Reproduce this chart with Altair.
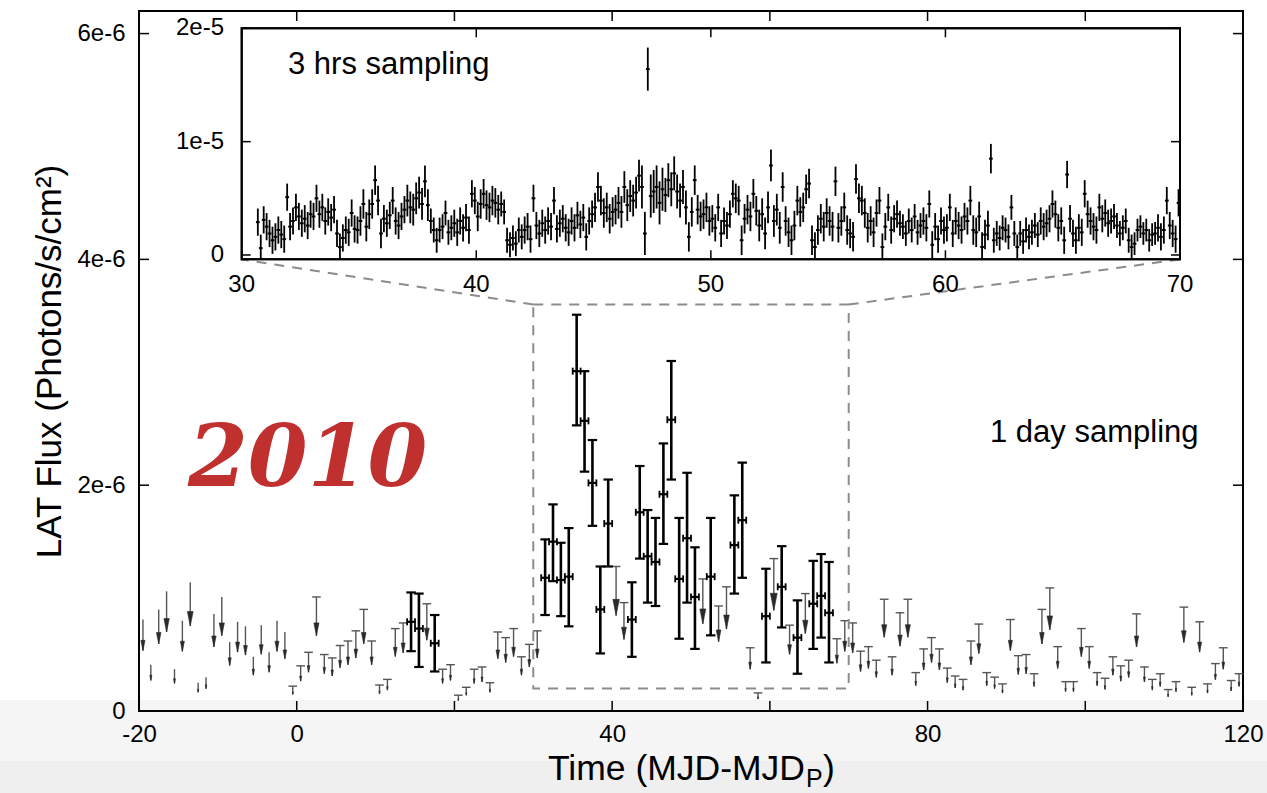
import altair as alt
import pandas as pd

# ---------------- 1-day light curve (flux in units of 1e-6 ph/s/cm^2) ----------------
ul_t = [-19.5, -18.5, -17.5, -16.5, -15.5, -14.5, -13.5, -12.5, -11.5, -10.5,
        -9.5, -8.5, -7.5, -6.5, -5.5, -4.5, -3.5, -2.5, -1.5, -0.5,
        0.5, 1.5, 2.5, 3.5, 4.5, 5.5, 6.5, 7.5, 8.5, 9.5,
        10.5, 11.5, 12.5, 13.5, 16.5, 18.5, 19.5, 20.5, 21.5, 22.5,
        23.5, 24.5, 25.5, 26.5, 27.5, 28.5, 29.5, 30.5, 40.5, 41.5,
        51.5, 53.5, 54.5, 57.5, 58.5, 60.5, 62.5, 64.5, 68.5, 69.5,
        70.5, 71.5, 72.5, 73.5, 74.5, 75.5, 76.5, 77.5, 78.5, 79.5,
        80.5, 81.5, 82.5, 83.5, 84.5, 85.5, 86.5, 87.5, 88.5, 89.5,
        90.5, 91.5, 92.5, 93.5, 94.5, 95.5, 96.5, 97.5, 98.5, 99.5,
        100.5, 101.5, 102.5, 103.5, 104.5, 105.5, 106.5, 107.5, 108.5, 109.5,
        110.5, 111.5, 112.5, 113.5, 114.5, 115.5, 116.5, 117.5, 118.5, 119.5]
ul_f = [0.81, 0.41, 0.90, 1.06, 0.37, 0.80, 1.14, 0.25, 0.30, 0.86,
        1.01, 0.61, 0.79, 0.75, 0.48, 0.76, 0.52, 0.80, 0.70, 0.22,
        0.40, 0.52, 1.01, 0.50, 0.47, 0.58, 0.62, 0.71, 0.90, 0.62,
        0.23, 0.28, 0.73, 0.78, 0.95, 0.37, 0.41, 0.14, 0.21, 0.37,
        0.39, 0.25, 0.70, 0.65, 0.73, 0.48, 0.59, 0.71, 1.28, 0.96,
        1.17, 0.93, 1.10, 0.56, 0.16, 1.35, 0.76, 1.04, 0.64, 0.80,
        0.78, 0.53, 0.57, 0.45, 0.99, 0.48, 0.87, 0.99, 0.34, 0.55,
        0.65, 0.55, 0.38, 0.31, 0.28, 0.62, 0.77, 0.34, 0.30, 0.24,
        0.81, 0.49, 0.50, 0.33, 0.90, 1.09, 0.57, 0.26, 0.26, 0.73,
        0.57, 0.34, 0.29, 0.48, 0.40, 0.45, 0.86, 0.39, 0.28, 0.33,
        0.19, 0.26, 0.92, 0.21, 0.79, 0.24, 0.42, 0.56, 0.27, 0.33]

det_t = [14.5, 15.5, 17.5, 31.5, 32.5, 33.5, 34.5, 35.5, 36.5, 37.5,
         38.5, 39.5, 42.5, 43.5, 44.5, 45.5, 46.5, 47.5, 48.5, 49.5,
         50.5, 52.5, 55.5, 56.5, 59.5, 61.5, 63.5, 65.5, 66.5, 67.5]
det_f = [0.79, 0.73, 0.60, 1.18, 1.50, 1.16, 1.19, 3.01, 2.57, 2.02,
         0.90, 1.66, 0.81, 1.76, 1.37, 1.32, 1.92, 2.58, 1.17, 1.53,
         1.01, 1.19, 1.47, 1.69, 0.84, 1.10, 0.65, 0.95, 1.02, 0.87]
det_lo = [0.53, 0.39, 0.35, 0.85, 1.15, 0.84, 0.75, 2.53, 2.12, 1.64,
          0.51, 1.28, 0.48, 1.35, 0.96, 0.93, 1.48, 2.05, 0.64, 0.96,
          0.55, 0.67, 1.04, 1.18, 0.43, 0.74, 0.33, 0.55, 0.65, 0.43]
det_hi = [1.05, 1.04, 0.85, 1.52, 1.83, 1.49, 1.62, 3.51, 3.01, 2.40,
          1.28, 2.05, 1.14, 2.17, 1.78, 1.71, 2.37, 3.10, 1.71, 2.11,
          1.45, 1.71, 1.91, 2.20, 1.26, 1.46, 0.98, 1.33, 1.39, 1.32]

# ---------------- 3-hour light curve (inset), 1e-6 units, one row per day ----------------
inset_day = [30, 31, 32, 33, 34, 35, 36, 37, 38, 39, 40, 41, 42, 43, 44, 45, 46, 47, 48, 49,
             50, 51, 52, 53, 54, 55, 56, 57, 58, 59, 60, 61, 62, 63, 64, 65, 66, 67, 68, 69]
inset_flux = [
    [None, None, None, None, None, 2.9, 0.6, 3.1],
    [2.5, 1.9, 1.3, 1.6, 2.2, 1.8, 1.4, 5.1],
    [2.5, 3.0, 4.2, 3.4, 2.8, 3.2, 2.6, 3.6],
    [3.4, 5.0, 3.6, 4.2, 3.0, 3.8, 3.3, 4.0],
    [1.9, 0.7, 1.5, 2.2, 2.0, 3.7, 2.3, 2.2],
    [3.0, 4.5, 2.5, 3.6, 4.5, 6.6, 4.8, 1.9],
    [3.2, 2.8, 3.5, 4.8, 3.0, 2.6, 3.4, 4.0],
    [4.8, 4.2, 4.0, 5.0, 5.5, 4.5, 6.5, 4.4],
    [3.0, 2.2, 1.3, 2.2, 2.5, 3.7, 2.0, 2.4],
    [2.8, 2.0, 3.0, 2.4, 3.3, 2.2, 5.4, 4.8],
    [3.4, 4.5, 5.4, 4.4, 4.2, 4.8, 4.6, 4.0],
    [4.5, 3.8, 1.3, 0.9, 1.5, 1.0, 2.2, 1.6],
    [2.2, 2.5, 1.4, 5.0, 2.6, 1.9, 2.8, 2.2],
    [3.0, 2.5, 4.8, 2.3, 2.8, 3.2, 2.4, 2.0],
    [3.0, 2.4, 3.5, 2.7, 3.3, 1.6, 3.0, 3.6],
    [4.2, 6.0, 4.8, 3.7, 4.2, 3.2, 3.8, 4.0],
    [4.6, 3.8, 6.0, 4.4, 5.2, 4.8, 5.5, 7.0],
    [6.0, 1.9, 16.4, 5.2, 5.6, 6.0, 4.6, 5.8],
    [5.3, 6.6, 5.8, 7.2, 5.6, 4.8, 6.0, 4.2],
    [1.6, 3.8, 6.6, 4.0, 3.4, 3.6, 4.2, 3.0],
    [3.2, 2.4, 4.2, 1.9, 3.0, 2.6, 3.6, 5.4],
    [5.0, 4.8, 1.3, 3.2, 4.0, 3.4, 5.4, 3.9],
    [2.6, 3.6, 1.9, 4.2, 7.9, 3.0, 4.0, 2.4],
    [6.0, 3.0, 2.0, 1.3, 2.6, 4.8, 3.8, 4.2],
    [5.8, 6.3, 1.3, 0.7, 2.2, 3.2, 2.5, 3.7],
    [3.0, 2.5, 6.5, 2.4, 3.0, 4.2, 2.2, 1.9],
    [1.6, 6.7, 5.0, 4.8, 3.7, 2.4, 3.0, 2.0],
    [3.7, 4.8, 0.7, 2.5, 4.2, 2.2, 3.2, 3.6],
    [2.8, 2.5, 1.9, 3.0, 2.2, 3.4, 2.0, 2.6],
    [3.0, 2.4, 4.5, 0.9, 2.5, 1.4, 3.0, 2.2],
    [2.4, 4.2, 1.9, 3.0, 2.6, 2.2, 3.4, 3.0],
    [4.8, 2.2, 2.0, 3.4, 0.7, 1.8, 2.6, 8.5],
    [1.3, 1.9, 1.5, 2.4, 2.2, 1.6, 4.2, 1.9],
    [0.7, 1.9, 1.2, 2.2, 1.6, 2.0, 2.6, 1.8],
    [3.0, 2.5, 2.8, 3.2, 4.5, 3.6, 2.4, 3.0],
    [1.3, 7.1, 3.2, 1.9, 1.3, 2.4, 2.0, 5.4],
    [3.6, 3.0, 2.5, 2.2, 4.2, 3.2, 3.7, 2.8],
    [3.0, 3.4, 2.6, 1.9, 2.4, 3.0, 1.3, 0.7],
    [1.0, 2.2, 2.5, 1.9, 2.2, 1.3, 1.8, 1.9],
    [2.4, 1.6, 2.2, 4.8, 2.6, 1.9, 1.4, 4.6],
]
inset_err = [1.2, 1.2, 1.2, 1.2, 1.2, 1.3, 1.2, 1.4, 1.1, 1.2,
             1.3, 1.1, 1.2, 1.2, 1.2, 1.3, 1.4, 1.9, 1.5, 1.3,
             1.2, 1.3, 1.4, 1.3, 1.3, 1.3, 1.3, 1.2, 1.1, 1.2,
             1.2, 1.3, 1.1, 1.1, 1.2, 1.2, 1.2, 1.1, 1.0, 1.2]

x_ticks = [-20, 0, 20, 40, 60, 80, 100, 120]
y_ticks = [0, 2, 4, 6]
inset_x_ticks = [30, 40, 50, 60, 70]
inset_y_ticks = [0, 10, 20]
inset_y_labels = ["0", "1e-5", "2e-5"]

# ---------------- layout ----------------
W, H = 1104, 700
FONT = "Liberation Sans"
GRAY = "#8c8c8c"

xs = alt.Scale(domain=[-20, 120], nice=False, zero=False)
ys = alt.Scale(domain=[0, 6.2], nice=False, zero=False)
ixs = alt.Scale(domain=[30, 70], range=[102.7, 1041.0], nice=False, zero=False)
iys = alt.Scale(domain=[-0.38, 20], range=[248.3, 17.3], nice=False, zero=False)

XA = alt.Axis(values=x_ticks, ticks=False, tickSize=0, domain=False, grid=False,
              labelExpr="(datum.value == 20 || datum.value == 60 || datum.value == 100) ? '' : '' + datum.value",
              labelFontSize=24, labelFont=FONT, labelColor="black", labelPadding=11,
              labelFlush=False, labelOverlap=False, title="", zindex=2)
YA = alt.Axis(values=y_ticks, ticks=False, tickSize=0, domain=False, grid=False,
              labelExpr="datum.value == 0 ? '0' : datum.value + 'e-6'",
              labelFontSize=24, labelFont=FONT, labelColor="black", labelPadding=14,
              labelFlush=False, labelOverlap=False, zindex=2,
              title="LAT Flux (Photons/s/cm²)", titleFontSize=35, titleFont=FONT,
              titleFontWeight="normal", titleColor="black", titlePadding=9)


def X(f):
    return alt.X(f, type="quantitative", scale=xs, axis=XA)


def Y(f):
    return alt.Y(f, type="quantitative", scale=ys, axis=YA)


def IX(f):
    return alt.X(f, type="quantitative", scale=ixs, axis=None)


def IY(f):
    return alt.Y(f, type="quantitative", scale=iys, axis=None)


# ---------------- tables ----------------
one = pd.DataFrame({"k": [0]})
ul = pd.DataFrame({"t": ul_t, "f": ul_f})
ul["tip"] = ul["f"] * 0.66
ul["hs"] = (ul["f"] * 12.7) ** 2
ul["a"] = ul["t"] - 0.55
ul["b"] = ul["t"] + 0.55
ul_cap = ul[ul["t"] > -1]

det = pd.DataFrame({"t": det_t, "f": det_f, "lo": det_lo, "hi": det_hi})
det["a"] = det["t"] - 0.6
det["b"] = det["t"] + 0.6
det["l"] = det["t"] - 0.5
det["r"] = det["t"] + 0.5
det_caps = pd.concat([pd.DataFrame({"a": det["a"], "b": det["b"], "y": det["lo"]}),
                      pd.DataFrame({"a": det["a"], "b": det["b"], "y": det["hi"]})])
det_ends = pd.concat([pd.DataFrame({"x": det["l"], "y": det["f"]}),
                      pd.DataFrame({"x": det["r"], "y": det["f"]})])

rows = []
for d, vals, e in zip(inset_day, inset_flux, inset_err):
    for k, v in enumerate(vals):
        if v is None:
            continue
        t = d + (k + 0.5) / 8.0
        rows.append({"t": t, "f": v, "lo": max(v - e, -0.38), "hi": min(v + e, 20.0),
                     "a": t - 0.08, "b": t + 0.08})
ins = pd.DataFrame(rows)

frame_df = pd.DataFrame({"x0": [-20], "x1": [120], "y0": [0.0], "y1": [6.2]})
box_df = pd.DataFrame({"x0": [30], "x1": [70], "y0": [0.2], "y1": [3.6]})
conn_df = pd.DataFrame({"x0": [30, 70], "y0": [3.6, 3.6], "x1": [-7, 112], "y1": [4.0, 4.0]})
xt_df = pd.DataFrame({"v": x_ticks})
yt_df = pd.DataFrame({"v": y_ticks})
inset_frame_df = pd.DataFrame({"x0": [30], "x1": [70], "y0": [-0.38], "y1": [20.0]})
ixt_df = pd.DataFrame({"v": inset_x_ticks, "s": [str(v) for v in inset_x_ticks]})
iyt_df = pd.DataFrame({"v": inset_y_ticks, "s": inset_y_labels})

# ---------------- main panel ----------------
band1 = alt.Chart(one).mark_rect(color="#f5f5f5").encode(
    x=alt.value(-139), x2=alt.value(1128), y=alt.value(689), y2=alt.value(750))
band2 = alt.Chart(one).mark_rect(color="#efefef").encode(
    x=alt.value(-139), x2=alt.value(1128), y=alt.value(750), y2=alt.value(782))

frame = alt.Chart(frame_df).mark_rect(fillOpacity=0, stroke="black", strokeWidth=2).encode(
    x=X("x0"), x2="x1", y=Y("y0"), y2="y1")

tick_b = alt.Chart(xt_df).mark_rule(color="black", strokeWidth=1.5).encode(
    x=X("v"), y=alt.value(H), y2=alt.value(H - 10))
tick_t = alt.Chart(xt_df).mark_rule(color="black", strokeWidth=1.5).encode(
    x=X("v"), y=alt.value(0), y2=alt.value(10))
tick_l = alt.Chart(yt_df).mark_rule(color="black", strokeWidth=1.5).encode(
    y=Y("v"), x=alt.value(0), x2=alt.value(10))
tick_r = alt.Chart(yt_df).mark_rule(color="black", strokeWidth=1.5).encode(
    y=Y("v"), x=alt.value(W), x2=alt.value(W - 10))

ul_line = alt.Chart(ul).mark_rule(color="#555555", strokeWidth=1.4).encode(
    x=X("t"), y=Y("f"), y2="tip")
ul_capm = alt.Chart(ul_cap).mark_rule(color="#555555", strokeWidth=1.4).encode(
    x=X("a"), x2="b", y=Y("f"))
ul_head = alt.Chart(ul).mark_point(shape="M-0.4,-2L0,0L0.4,-2Z", filled=True, color="#2a2a2a",
                                   opacity=1, strokeWidth=0.6, stroke="#2a2a2a").encode(
    x=X("t"), y=Y("tip"), size=alt.Size("hs:Q", scale=None, legend=None))

det_bar = alt.Chart(det).mark_rule(color="black", strokeWidth=2.6).encode(
    x=X("t"), y=Y("lo"), y2="hi")
det_cap = alt.Chart(det_caps).mark_rule(color="black", strokeWidth=2.2).encode(
    x=X("a"), x2="b", y=Y("y"))
det_h = alt.Chart(det).mark_rule(color="black", strokeWidth=2.2).encode(
    x=X("l"), x2="r", y=Y("f"))
det_end = alt.Chart(det_ends).mark_tick(orient="vertical", color="black", size=7, thickness=1.8,
                                        opacity=1).encode(x=X("x"), y=Y("y"))

box = alt.Chart(box_df).mark_rect(fillOpacity=0, stroke=GRAY, strokeWidth=2,
                                  strokeDash=[10, 8]).encode(
    x=X("x0"), x2="x1", y=Y("y0"), y2="y1")
conn = alt.Chart(conn_df).mark_rule(color=GRAY, strokeWidth=2, strokeDash=[10, 8]).encode(
    x=X("x0"), y=Y("y0"), x2="x1", y2="y1")

main = alt.layer(band1, band2, frame, tick_b, tick_t, tick_l, tick_r,
                 ul_line, ul_capm, ul_head, det_bar, det_cap, det_h, det_end, box, conn)

# ---------------- inset panel ----------------
in_bg = alt.Chart(inset_frame_df).mark_rect(fill="white", stroke="black", strokeWidth=2).encode(
    x=IX("x0"), x2="x1", y=IY("y0"), y2="y1")
in_tb = alt.Chart(ixt_df).mark_rule(color="black", strokeWidth=1.5).encode(
    x=IX("v"), y=alt.value(248.3), y2=alt.value(239.3))
in_tt = alt.Chart(ixt_df).mark_rule(color="black", strokeWidth=1.5).encode(
    x=IX("v"), y=alt.value(17.3), y2=alt.value(26.3))
in_tl = alt.Chart(iyt_df).mark_rule(color="black", strokeWidth=1.5).encode(
    y=IY("v"), x=alt.value(102.7), x2=alt.value(111.7))
in_tr = alt.Chart(iyt_df).mark_rule(color="black", strokeWidth=1.5).encode(
    y=IY("v"), x=alt.value(1041), x2=alt.value(1032))
in_bar = alt.Chart(ins).mark_rule(color="black", strokeWidth=1.8).encode(
    x=IX("t"), y=IY("lo"), y2="hi")
in_h = alt.Chart(ins).mark_rule(color="black", strokeWidth=2).encode(
    x=IX("a"), x2="b", y=IY("f"))
in_frame = alt.Chart(inset_frame_df).mark_rect(fillOpacity=0, stroke="black", strokeWidth=2).encode(
    x=IX("x0"), x2="x1", y=IY("y0"), y2="y1")
in_xl = alt.Chart(ixt_df).mark_text(font=FONT, fontSize=24, color="black", align="center",
                                    baseline="middle").encode(
    x=IX("v"), y=alt.value(274), text="s:N")
in_yl = alt.Chart(iyt_df).mark_text(font=FONT, fontSize=24, color="black", align="right",
                                    baseline="middle").encode(
    y=IY("v"), x=alt.value(85), text="s:N")

# ---------------- annotations ----------------
def label(txt, x, y, **kw):
    return alt.Chart(pd.DataFrame({"s": [txt]})).mark_text(**kw).encode(
        text="s:N", x=alt.value(x), y=alt.value(y))


t3h = label("3 hrs sampling", 149, 63, font=FONT, fontSize=31, color="black",
            align="left", baseline="alphabetic")
t1d = label("1 day sampling", 851, 431, font=FONT, fontSize=31, color="black",
            align="left", baseline="alphabetic")
t2010 = label("2010", 49, 475, font="DejaVu Serif", fontSize=86, fontStyle="italic",
              fontWeight="bold", color="#c0302f", align="left", baseline="alphabetic")
xt1 = label("Time (MJD-MJD", 409, 769, font=FONT, fontSize=35.5, color="black",
            align="left", baseline="alphabetic")
xt2 = label("P", 667, 776, font=FONT, fontSize=25, color="black",
            align="left", baseline="alphabetic")
xt3 = label(")", 684, 769, font=FONT, fontSize=35.5, color="black",
            align="left", baseline="alphabetic")

inset = alt.layer(in_bg, in_tb, in_tt, in_tl, in_tr, in_bar, in_h, in_frame, in_xl, in_yl,
                  t3h, t1d, t2010, xt1, xt2, xt3)

chart = alt.layer(main, inset).resolve_scale(x="independent", y="independent").properties(
    width=W, height=H,
    autosize=alt.AutoSizeParams(type="none"),
    padding={"left": 139, "top": 11, "right": 24, "bottom": 82},
    background="white",
).configure_view(stroke="transparent")

chart.save("out.html", embed_options={"renderer": "svg", "actions": False})
